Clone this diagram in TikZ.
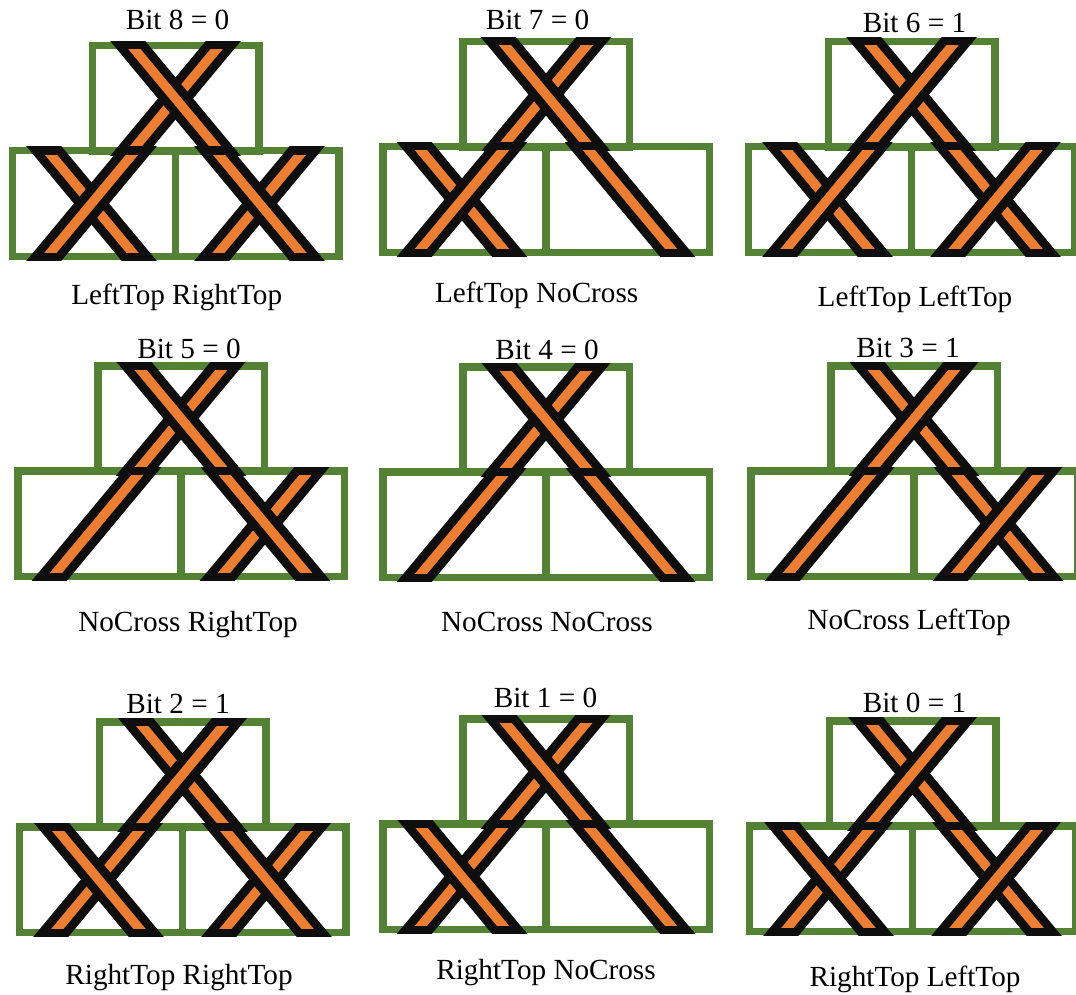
\documentclass[tikz,border=0pt]{standalone}
\usepackage{fontspec}
\setmainfont{Liberation Serif}

\begin{document}
\begin{tikzpicture}[x=0.5pt, y=-0.5pt, font=\fontsize{14.6}{17}\selectfont]

\definecolor{boxgreen}{RGB}{84,130,53}
\definecolor{ropeorange}{RGB}{237,125,49}
\definecolor{ropeblack}{RGB}{14,14,14}

\tikzset{
  cellbox/.style={draw=boxgreen, line width=3.75pt},
  ropeedge/.style={draw=ropeblack, line width=13.5pt},
  ropecore/.style={draw=ropeorange, line width=4.7pt},
  caption/.style={anchor=base, inner sep=0pt},
}

\useasboundingbox (0,0) rectangle (1076,995);

% ---------------- helper: one rope through a cell ----------------
% #1 x centre, #2 top y, #3 direction (1 = down-right, -1 = down-left)
\newcommand{\rope}[3]{%
  \begin{scope}
    \clip ({#1-90},#2) rectangle ({#1+90},{#2+113});
    \draw[ropeedge] ({#1-(#3)*65.8},{#2-22.6}) -- ({#1+(#3)*65.8},{#2+135.6});
  \end{scope}
  \begin{scope}
    \clip ({#1-90},{#2+8}) rectangle ({#1+90},{#2+105});
    \draw[ropecore] ({#1-(#3)*65.8},{#2-22.6}) -- ({#1+(#3)*65.8},{#2+135.6});
  \end{scope}
}

% ---------------- helper: a cell, 0 NoCross, 1 LeftTop, 2 RightTop ----------------
% #4 = the lone rope when there is no crossing
\newcommand{\ropecell}[4]{%
  \ifcase#3 \rope{#1}{#2}{#4}%
  \or \rope{#1}{#2}{1}\rope{#1}{#2}{-1}%
  \or \rope{#1}{#2}{-1}\rope{#1}{#2}{1}%
  \fi
}

% ---------------- helper: three boxes of one bit ----------------
\newcommand{\brick}[5]{%
  \draw[cellbox] ({#1-83.25},{#2+3.75}) rectangle ({#1+83.25},{#2+109.25});
  \draw[cellbox] ({#1-163.25},{#2+108.75}) rectangle (#1,{#2+214.25});
  \draw[cellbox] (#1,{#2+108.75}) rectangle ({#1+163.25},{#2+214.25});
  \ropecell{#1}{#2}{#3}{0}
  \ropecell{#1-84}{#2+105}{#4}{-1}
  \ropecell{#1+84}{#2+105}{#5}{1}
}

% =========== ROW 1 ===========
\brick{175.5}{42}{2}{1}{2}
\brick{546}{38}{2}{1}{0}
\brick{911.5}{38}{1}{1}{1}

% =========== ROW 2 ===========
\brick{181}{362}{2}{0}{2}
\brick{546}{363}{2}{0}{0}
\brick{914}{362}{1}{0}{1}

% =========== ROW 3 ===========
\brick{182.5}{718}{1}{2}{2}
\brick{546}{715}{2}{2}{0}
\brick{912.5}{717}{1}{2}{1}

% titles
\node[caption] (bit8) at (177.5,30) {Bit 8 = 0};
\node[caption] (bit7) at (537.5,30) {Bit 7 = 0};
\node[caption] (bit6) at (914.5,33) {Bit 6 = 1};
\node[caption] (bit5) at (189,358) {Bit 5 = 0};
\node[caption] (bit4) at (547,359) {Bit 4 = 0};
\node[caption] (bit3) at (908,357) {Bit 3 = 1};
\node[caption] (bit2) at (178,713) {Bit 2 = 1};
\node[caption] (bit1) at (545.5,707) {Bit 1 = 0};
\node[caption] (bit0) at (914.5,712) {Bit 0 = 1};

% captions
\node[caption] (cap8) at (176.7,304) {LeftTop RightTop};
\node[caption] (cap7) at (536.7,302) {LeftTop NoCross};
\node[caption] (cap6) at (915,306) {LeftTop LeftTop};
\node[caption] (cap5) at (188,631) {NoCross RightTop};
\node[caption] (cap4) at (547,631) {NoCross NoCross};
\node[caption] (cap3) at (909,629) {NoCross LeftTop};
\node[caption] (cap2) at (179,984) {RightTop RightTop};
\node[caption] (cap1) at (546,979) {RightTop NoCross};
\node[caption] (cap0) at (915,986) {RightTop LeftTop};

\end{tikzpicture}
\end{document}
